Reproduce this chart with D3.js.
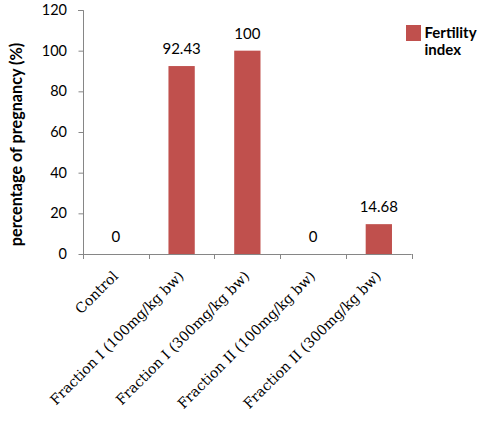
<!DOCTYPE html>
<html>
<head>
<meta charset="utf-8">
<script src="https://cdn.jsdelivr.net/npm/d3@7"></script>
<style>
  html, body { margin: 0; padding: 0; background: #ffffff; }
  svg { display: block; }
</style>
</head>
<body>
<svg id="chart" width="492" height="434"></svg>
<script>
const categories = [
  "Control",
  "Fraction I (100mg/kg bw)",
  "Fraction I (300mg/kg bw)",
  "Fraction II (100mg/kg  bw)",
  "Fraction II (300mg/kg  bw)"
];
const fertilityIndex = [0, 92.43, 100, 0, 14.68];
const valueLabels = ["0", "92.43", "100", "0", "14.68"];
const yTicks = [0, 20, 40, 60, 80, 100, 120];
const seriesName = ["Fertility", "index"];
const yTitle = "percentage of pregnancy (%)";

const svg = d3.select("#chart");
const axisColor = "#868686";
const barColor = "#C0504D";
const numFont = "Lato, Calibri, 'Open Sans', sans-serif";
const catFont = "'DejaVu Serif', Cambria, serif";

const plot = { left: 83, right: 411.7, top: 10, bottom: 254 };

const y = d3.scaleLinear().domain([0, 120]).range([plot.bottom, plot.top]);
const x = d3.scaleBand().domain(categories).range([plot.left, plot.right])
  .paddingInner(0.6).paddingOuter(0.3);
const step = x.step();

// bars
svg.append("g").selectAll("rect").data(categories).join("rect")
  .attr("x", d => x(d))
  .attr("y", (d, i) => y(fertilityIndex[i]))
  .attr("width", x.bandwidth())
  .attr("height", (d, i) => y(0) - y(fertilityIndex[i]))
  .attr("fill", barColor);

// y axis
const yAxis = svg.append("g").attr("transform", `translate(${plot.left},0)`)
  .call(d3.axisLeft(y).tickValues(yTicks).tickSize(5).tickPadding(11).tickFormat(d3.format("d")));
yAxis.select(".domain").attr("stroke", axisColor).attr("d", `M-5,${y(120)}.5H0.5V${plot.bottom}`);
yAxis.selectAll(".tick line").attr("stroke", axisColor).attr("transform", "translate(0.5,0)");
yAxis.selectAll(".tick text").attr("font-family", numFont).attr("font-size", 14.5).attr("fill", "#000");

// x axis line and boundary ticks
const xg = svg.append("g");
xg.append("line").attr("x1", plot.left).attr("x2", plot.right)
  .attr("y1", plot.bottom + 0.5).attr("y2", plot.bottom + 0.5).attr("stroke", axisColor);
const bounds = d3.range(categories.length + 1).map(i => plot.left + i * step);
xg.selectAll("line.tk").data(bounds).join("line").attr("class", "tk")
  .attr("x1", d => Math.round(d) + 0.5).attr("x2", d => Math.round(d) + 0.5)
  .attr("y1", plot.bottom).attr("y2", plot.bottom + 5).attr("stroke", axisColor);

// category labels
xg.selectAll("text.cat").data(categories).join("text").attr("class", "cat")
  .attr("transform", d => `translate(${x(d) + x.bandwidth() / 2 + 3},${plot.bottom + 23}) rotate(-45)`)
  .attr("text-anchor", "end")
  .attr("font-family", catFont).attr("font-size", 14).attr("fill", "#000")
  .text(d => d);

// data labels
svg.append("g").selectAll("text").data(categories).join("text")
  .attr("x", d => x(d) + x.bandwidth() / 2)
  .attr("y", (d, i) => y(fertilityIndex[i]) - 12)
  .attr("text-anchor", "middle")
  .attr("font-family", numFont).attr("font-size", 15).attr("fill", "#000")
  .text((d, i) => valueLabels[i]);

// y title
svg.append("text")
  .attr("transform", `translate(22,144.5) rotate(-90)`)
  .attr("text-anchor", "middle")
  .attr("font-family", numFont).attr("font-weight", "bold").attr("font-size", 16.2).attr("fill", "#000")
  .text(yTitle);

// legend
const lg = svg.append("g");
lg.append("rect").attr("x", 406).attr("y", 25).attr("width", 15).attr("height", 16).attr("fill", barColor);
lg.selectAll("text").data(seriesName).join("text")
  .attr("x", 424.5).attr("y", (d, i) => 37.5 + i * 17.5)
  .attr("font-family", numFont).attr("font-weight", "bold").attr("font-size", 15).attr("fill", "#000")
  .text(d => d);
</script>
</body>
</html>
